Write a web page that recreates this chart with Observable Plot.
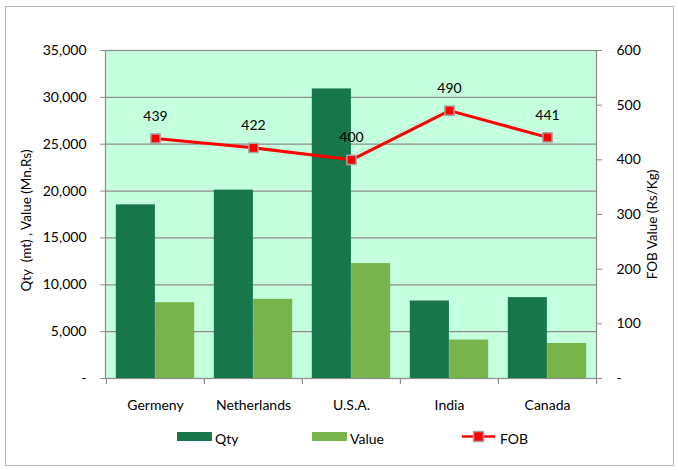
<!DOCTYPE html>
<html><head><meta charset="utf-8">
<script src="https://cdn.jsdelivr.net/npm/d3@7"></script>
<script src="https://cdn.jsdelivr.net/npm/@observablehq/plot@0.6"></script>
<style>
body{margin:0;background:#fff;font-family:Lato,sans-serif;}
#wrap{position:relative;width:678px;height:470px;overflow:hidden}
#frame{position:absolute;left:5px;top:6px;width:669px;height:460px;border:1.5px solid #b4b4b4;pointer-events:none;box-sizing:border-box}
#legend{position:absolute;left:0;top:424px;width:678px;height:30px;font:14px Lato,sans-serif;color:#000}
.it{position:absolute;top:0;height:30px}
.sw{position:absolute;top:8px;width:35px;height:9px}
.lt{position:absolute;top:6px;white-space:nowrap}
</style></head>
<body>
<div id="wrap"><div id="chart"></div>
<div id="legend">
  <div class="it" style="left:177px"><div class="sw" style="left:0;background:#17774A"></div><div class="lt" style="left:38px">Qty</div></div>
  <div class="it" style="left:312px"><div class="sw" style="left:0;background:#79B34B"></div><div class="lt" style="left:38px">Value</div></div>
  <div class="it" style="left:462px"><svg width="34" height="30" style="position:absolute;left:0;top:0"><line x1="0" y1="12.5" x2="33" y2="12.5" stroke="red" stroke-width="2.5"/><rect x="11.5" y="7.5" width="10" height="10" fill="red" stroke="#a6a6a6" stroke-width="1.5"/></svg><div class="lt" style="left:38px">FOB</div></div>
</div>
<div id="frame"></div>
</div>
<script>
const countries = ["Germeny", "Netherlands", "U.S.A.", "India", "Canada"];
const qty = [18530, 20100, 30900, 8270, 8630];
const value = [8090, 8450, 12260, 4100, 3740];
const fob = [439, 422, 400, 490, 441];
const leftTicks = [0, 5000, 10000, 15000, 20000, 25000, 30000, 35000];
const rightTicks = [0, 100, 200, 300, 400, 500, 600];
const leftTitle = "Qty  (mt) , Value (Mn.Rs)";
const rightTitle = "FOB Value (Rs/Kg)";

const leftMax = 35000, rightMax = 600;
const k = leftMax / rightMax;
const rows = countries.map((c, i) => ({country: c, qty: qty[i], value: value[i], fob: fob[i], fobY: fob[i] * k}));

const W = 678, H = 424, mL = 105, mR = 82, mT = 50, mB = 46;
const bw = (W - mL - mR) / countries.length;
const fmt = d3.format(",");

const chart = Plot.plot({
  width: W, height: H, marginLeft: mL, marginRight: mR, marginTop: mT, marginBottom: mB,
  style: {fontFamily: "Lato, sans-serif", fontSize: "14px", color: "#000", background: "transparent", overflow: "visible"},
  x: {domain: countries, padding: 0},
  y: {domain: [0, leftMax]},
  marks: [
    Plot.frame({fill: "#C4FFDE"}),
    Plot.gridY(leftTicks.slice(1), {stroke: "#8c8c8c", strokeOpacity: 1, strokeWidth: 1.2}),
    Plot.frame({stroke: "#8c8c8c", strokeWidth: 1.2}),
    Plot.barY(rows, {x: "country", y: "qty", fill: "#17774A", insetLeft: bw * 0.1, insetRight: bw * 0.5}),
    Plot.barY(rows, {x: "country", y: "value", fill: "#79B34B", insetLeft: bw * 0.5, insetRight: bw * 0.1}),
    Plot.lineY(rows, {x: "country", y: "fobY", stroke: "#ff0000", strokeWidth: 3}),
    Plot.dot(rows, {x: "country", y: "fobY", symbol: "square", r: 5.2, fill: "#ff0000", stroke: "#a6a6a6", strokeWidth: 1.5}),
    Plot.text(rows, {x: "country", y: "fobY", text: "fob", dy: -22, fontSize: 14}),
    Plot.axisY({ticks: leftTicks, tickFormat: d => d === 0 ? "-" : fmt(d), tickSize: 5, tickPadding: 14, label: null, stroke: "#8c8c8c"}),
    Plot.axisY({anchor: "right", ticks: rightTicks.map(v => v * k), tickFormat: d => { const v = Math.round(d / k); return v === 0 ? "-" : String(v); }, tickSize: 5, tickPadding: 15, label: null, stroke: "#8c8c8c"}),
    Plot.axisX({tickSize: 0, tickPadding: 22, label: null}),
    Plot.ruleX(rows, {x: "country", y1: 0, y2: 0, dx: -bw / 2, insetBottom: -6, stroke: "#8c8c8c", strokeWidth: 1.2}),
    Plot.ruleX(rows.slice(-1), {x: "country", y1: 0, y2: 0, dx: bw / 2, insetBottom: -6, stroke: "#8c8c8c", strokeWidth: 1.2}),
    Plot.text([leftTitle], {frameAnchor: "left", text: d => d, rotate: -90, textAnchor: "middle", lineAnchor: "middle", dx: -79, dy: 6, fontSize: 13.5}),
    Plot.text([rightTitle], {frameAnchor: "right", text: d => d, rotate: -90, textAnchor: "middle", lineAnchor: "middle", dx: 56, dy: 10, fontSize: 13.5})
  ]
});
document.getElementById("chart").appendChild(chart);
</script>
</body></html>
